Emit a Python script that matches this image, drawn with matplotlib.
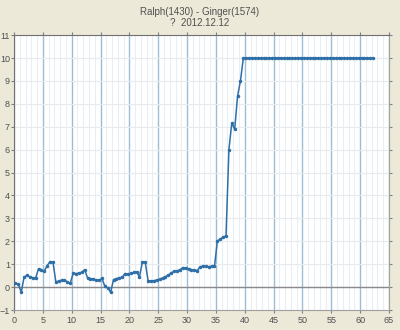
import numpy as np
import matplotlib
matplotlib.use("Agg")
import matplotlib.pyplot as plt
from matplotlib.ticker import MultipleLocator

title_lines = ["Ralph(1430) - Ginger(1574)", "?  2012.12.12"]

# x positions of the samples (every half game unit)
x_start = 0.25
x_step = 0.5

values = [
    0.16, 0.14, -0.23, 0.44, 0.51, 0.45, 0.41, 0.40, 0.80, 0.73,
    0.70, 0.94, 1.11, 1.10, 0.23, 0.26, 0.30, 0.32, 0.22, 0.17,
    0.60, 0.59, 0.61, 0.65, 0.76, 0.40, 0.37, 0.36, 0.31, 0.30,
    0.38, 0.03, -0.03, -0.23, 0.33, 0.37, 0.41, 0.43, 0.59, 0.57,
    0.60, 0.64, 0.66, 0.45, 1.09, 1.08, 0.27, 0.27, 0.28, 0.31,
    0.34, 0.40, 0.46, 0.52, 0.62, 0.69, 0.71, 0.75, 0.85, 0.84,
    0.79, 0.76, 0.74, 0.72, 0.88, 0.92, 0.90, 0.89, 0.91, 0.90,
    2.02, 2.09, 2.19, 2.23, 6.00, 7.17, 6.88, 8.34, 9.00, 10.0,
    10.0, 10.0, 10.0, 10.0, 10.0, 10.0, 10.0, 10.0, 10.0, 10.0,
    10.0, 10.0, 10.0, 10.0, 10.0, 10.0, 10.0, 10.0, 10.0, 10.0,
    10.0, 10.0, 10.0, 10.0, 10.0, 10.0, 10.0, 10.0, 10.0, 10.0,
    10.0, 10.0, 10.0, 10.0, 10.0, 10.0, 10.0, 10.0, 10.0, 10.0,
    10.0, 10.0, 10.0, 10.0, 10.0,
]
x_vals = x_start + x_step * np.arange(len(values))

bg = "#ECE9D8"
line_color = "#2F6FA7"
text_color = "#505050"

plt.rcParams["font.family"] = ["Liberation Sans", "DejaVu Sans"]

fig = plt.figure(figsize=(4.0, 3.3), dpi=100, facecolor=bg)
ax = fig.add_axes([0.035, 0.0606, 0.9375, 0.833])
ax.set_facecolor("white")

ax.set_xlim(0, 65)
ax.set_ylim(-1, 11)
ax.xaxis.set_major_locator(MultipleLocator(5))
ax.xaxis.set_minor_locator(MultipleLocator(1))
ax.yaxis.set_major_locator(MultipleLocator(1))

# grid
ax.grid(which="minor", axis="x", color="#E8EEF5", linewidth=0.8)
ax.grid(which="major", axis="x", color="#9DBDD6", linewidth=1.0)
ax.grid(which="major", axis="y", color="#EAEAEA", linewidth=0.8)
ax.set_axisbelow(True)
ax.axhline(0, color="#8A8A8A", linewidth=1.0, zorder=1)

ax.plot(x_vals, values, color=line_color, linewidth=1.1,
        marker="o", markersize=1.5, zorder=3)

for side in ["left", "top"]:
    ax.spines[side].set_color("#707070")
for side in ["right", "bottom"]:
    ax.spines[side].set_color("#A0A0A0")

ax.tick_params(which="both", direction="out", length=2, width=0.8,
               colors="#808080", labelcolor=text_color, labelsize=6.5, pad=1)
ax.tick_params(which="minor", length=0)
ax.tick_params(axis="y", right=True)
ax.tick_params(axis="x", top=True, pad=2)

fig.text(0.5, 0.978, title_lines[0], ha="center", va="top",
         fontsize=7, color=text_color)
fig.text(0.5, 0.946, title_lines[1], ha="center", va="top",
         fontsize=7, color=text_color)

fig.savefig("out.png", dpi=100, facecolor=bg)
